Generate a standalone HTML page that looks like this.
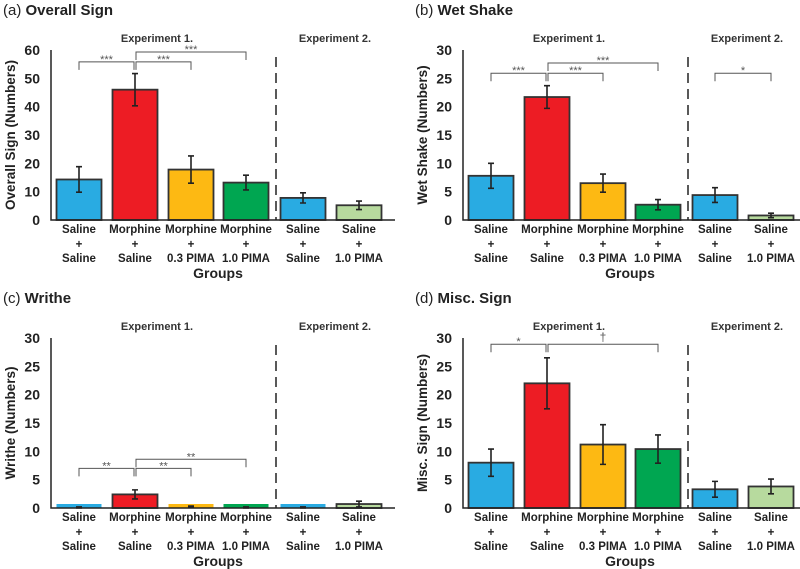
<!DOCTYPE html>
<html><head><meta charset="utf-8"><style>
html,body{margin:0;padding:0;background:#fff;}
svg{display:block;font-family:"Liberation Sans",Arial,sans-serif;}
</style></head><body>
<svg id="chart" width="800" height="569" viewBox="0 0 800 569"></svg>
<script>
const groupsTop = ["Saline","Morphine","Morphine","Morphine","Saline","Saline"];
const groupsBottom = ["Saline","Saline","0.3 PIMA","1.0 PIMA","Saline","1.0 PIMA"];
const colors = ["#29abe2","#ed1c24","#fdb913","#00a651","#29abe2","#b7da9e"];
const overallMeans = [14.3,46.0,17.8,13.2,7.8,5.2];
const overallErr = [4.5,5.7,4.8,2.6,1.8,1.5];
const wetMeans = [7.8,21.7,6.5,2.7,4.4,0.8];
const wetErr = [2.2,2.0,1.6,0.9,1.3,0.4];
const writheMeans = [0.1,2.4,0.2,0.1,0.1,0.7];
const writheErr = [0.1,0.8,0.15,0.1,0.1,0.5];
const miscMeans = [8.0,22.0,11.2,10.4,3.3,3.8];
const miscErr = [2.4,4.5,3.5,2.5,1.4,1.3];
const overallTicks = [0,10,20,30,40,50,60];
const smallTicks = [0,5,10,15,20,25,30];

const panels = [
 {id:"a",label:"(a)",title:"Overall Sign",ytitle:"Overall Sign (Numbers)",ox:0,oy:0,max:60,ticks:overallTicks,means:overallMeans,err:overallErr,
  brackets:[[0,1,55.8,"***"],[1,2,55.8,"***"],[1,3,59.3,"***"]]},
 {id:"b",label:"(b)",title:"Wet Shake",ytitle:"Wet Shake (Numbers)",ox:412,oy:0,max:30,ticks:smallTicks,means:wetMeans,err:wetErr,
  brackets:[[0,1,25.9,"***"],[1,2,25.9,"***"],[1,3,27.7,"***"],[4,5,25.9,"*"]]},
 {id:"c",label:"(c)",title:"Writhe",ytitle:"Writhe (Numbers)",ox:0,oy:288,max:30,ticks:smallTicks,means:writheMeans,err:writheErr,
  brackets:[[0,1,7.0,"**"],[1,2,7.0,"**"],[1,3,8.6,"**"]]},
 {id:"d",label:"(d)",title:"Misc. Sign",ytitle:"Misc. Sign (Numbers)",ox:412,oy:288,max:30,ticks:smallTicks,means:miscMeans,err:miscErr,
  brackets:[[0,1,28.9,"*"],[1,3,28.9,"†"]]}
];
const NS="http://www.w3.org/2000/svg";
const svg=document.getElementById("chart");
function mk(tag,attrs,parent,text){const e=document.createElementNS(NS,tag);for(const k in attrs)e.setAttribute(k,attrs[k]);if(text!==undefined)e.textContent=text;parent.appendChild(e);return e;}

panels.forEach(p=>{
  const g=mk("g",{transform:`translate(${p.ox},${p.oy})`},svg);
  
  
  const x0=51, base=220, top=50, bw=45;
  const centers=[79,135,191,246,303,359];
  const y=v=>base-(v/p.max)*(base-top);
  const t=mk("text",{x:3,y:15,"font-size":15,fill:"#222"},g);
  
  
  mk("tspan",{},t,p.label+" ");
  mk("tspan",{"font-weight":"bold"},t,p.title);
  const e1=mk("text",{x:157,y:42,"font-size":11,"font-weight":"bold","text-anchor":"middle",fill:"#333"},g,"Experiment 1.");
  
  
  const e2=mk("text",{x:335,y:42,"font-size":11,"font-weight":"bold","text-anchor":"middle",fill:"#333"},g,"Experiment 2.");
  
  
  p.ticks.forEach(v=>{
    const tl=mk("text",{x:40,y:y(v)+5,"font-size":14,"font-weight":"bold","text-anchor":"end",fill:"#222"},g,String(v));
    
    
  });
  const yt=mk("text",{transform:`translate(15,${(base+top)/2}) rotate(-90)`,"font-size":13.5,"font-weight":"bold","text-anchor":"middle",fill:"#222"},g,p.ytitle);
  
  
  const dl=mk("line",{x1:276,x2:276,y1:57,y2:base,stroke:"#222","stroke-width":1.5,"stroke-dasharray":"10,6"},g);
  
  
  p.means.forEach((m,i)=>{
    const cx=centers[i];
    const r=mk("rect",{x:cx-bw/2,y:y(m),width:bw,height:Math.max(base-y(m),0.5),fill:colors[i],stroke:"#333","stroke-width":m/p.max<0.02?0:1.8},g);
    if(m/p.max<0.02){r.setAttribute("height",4);r.setAttribute("y",base-4);}
    
    
    const eb=mk("path",{d:`M${cx},${y(m+p.err[i])}V${y(m-p.err[i])}M${cx-3},${y(m+p.err[i])}H${cx+3}M${cx-3},${y(m-p.err[i])}H${cx+3}`,stroke:"#222","stroke-width":1.6,fill:"none"},g);
    
    
    [[groupsTop[i],233],["+",248],[groupsBottom[i],262]].forEach(([s,yy])=>{
      const c=mk("text",{x:cx,y:yy,"font-size":11.5,"font-weight":"bold","text-anchor":"middle",fill:"#222"},g,s);
      
      
    });
  });
  const ax=mk("path",{d:`M${x0},${top}V${base}H395`,stroke:"#222","stroke-width":1.5,fill:"none"},g);
  
  
  const gx=mk("text",{x:218,y:278,"font-size":14,"font-weight":"bold","text-anchor":"middle",fill:"#222"},g,"Groups");
  
  
  p.brackets.forEach(([a,b,v,s])=>{
    const by=y(v), xa=centers[a]+(a===1?1:0), xb=centers[b]-(b===1?1:0);
    const bp=mk("path",{d:`M${xa},${by+8}V${by}H${xb}V${by+8}`,stroke:"#555","stroke-width":1,fill:"none"},g);
    
    
    const st=mk("text",{x:(xa+xb)/2,y:by-(s==="†"?3:-1),"font-size":s==="†"?12:11,"text-anchor":"middle",fill:"#555"},g,s);
    
    
  });
});
</script>
</body></html>
